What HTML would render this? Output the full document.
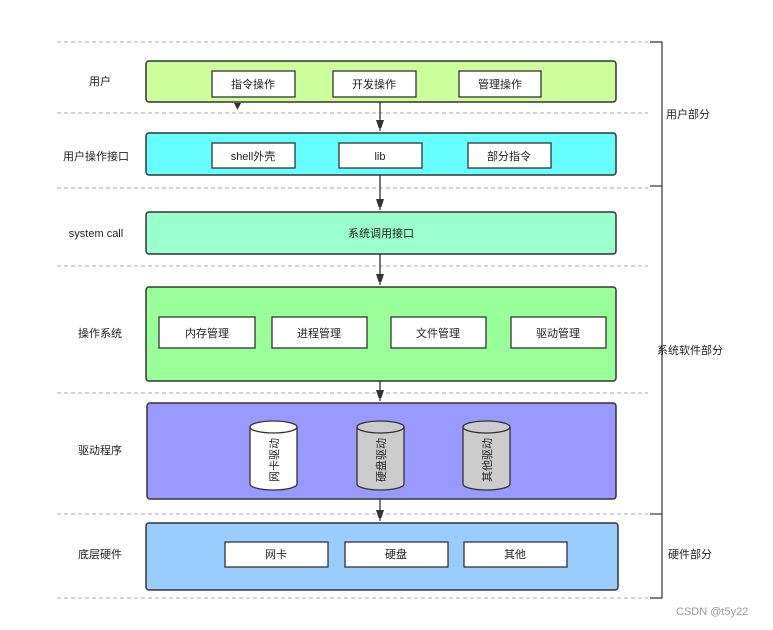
<!DOCTYPE html>
<html><head><meta charset="utf-8"><style>
html,body{margin:0;padding:0;background:#fff;}
svg text{font-family:"Liberation Sans","Noto Sans CJK SC",sans-serif;font-size:11px;fill:#222;}
</style></head><body>
<svg width="773" height="625" viewBox="0 0 773 625" xmlns="http://www.w3.org/2000/svg">
<defs><marker id="a" markerWidth="8" markerHeight="12" refX="11" refY="4" orient="auto" markerUnits="userSpaceOnUse"><path d="M0,0 L12,4 L0,8 z" fill="#333"/></marker></defs>
<g stroke="#aaa" stroke-dasharray="4,3" stroke-width="1">
<line x1="57" y1="42" x2="648" y2="42"/><line x1="57" y1="113" x2="648" y2="113"/>
<line x1="57" y1="188" x2="648" y2="188"/><line x1="57" y1="266" x2="648" y2="266"/>
<line x1="57" y1="393" x2="648" y2="393"/><line x1="57" y1="514" x2="648" y2="514"/>
<line x1="57" y1="598" x2="648" y2="598"/>
</g>
<g stroke="#333" fill="none" stroke-width="1.2">
<path d="M650,42 H662 V598 H650"/><line x1="650" y1="186" x2="662" y2="186"/><line x1="650" y1="514" x2="662" y2="514"/>
</g>
<g stroke="#333" stroke-width="1.5">
<rect x="146" y="61" width="470" height="41" rx="3" fill="#ccff99"/>
<rect x="146" y="133" width="470" height="42" rx="3" fill="#66ffff"/>
<rect x="146" y="212" width="470" height="42" rx="3" fill="#99ffcc"/>
<rect x="146" y="287" width="470" height="94" rx="3" fill="#99ff99"/>
<rect x="147" y="403" width="469" height="96" rx="3" fill="#9999ff"/>
<rect x="146" y="523" width="472" height="67" rx="3" fill="#99ccff"/>
</g>
<g stroke="#333" stroke-width="1.3" fill="#fff">
<rect x="212" y="71" width="83" height="26"/><rect x="333" y="71" width="83" height="26"/><rect x="459" y="71" width="82" height="26"/>
<rect x="212" y="143" width="83" height="25"/><rect x="339" y="143" width="83" height="25"/><rect x="468" y="143" width="83" height="25"/>
<rect x="159" y="317" width="96" height="31"/><rect x="272" y="317" width="95" height="31"/><rect x="391" y="317" width="95" height="31"/><rect x="511" y="317" width="95" height="31"/>
<rect x="225" y="542" width="103" height="25"/><rect x="345" y="542" width="103" height="25"/><rect x="464" y="542" width="103" height="25"/>
</g>
<g stroke="#333" stroke-width="1.3">
<path d="M250,427 V484 A23.5,6 0 0 0 297,484 V427" fill="#fff"/><ellipse cx="273.5" cy="427" rx="23.5" ry="6" fill="#fff"/>
<path d="M357,427 V484 A23.5,6 0 0 0 404,484 V427" fill="#ccc"/><ellipse cx="380.5" cy="427" rx="23.5" ry="6" fill="#ccc"/>
<path d="M463,427 V484 A23.5,6 0 0 0 510,484 V427" fill="#ccc"/><ellipse cx="486.5" cy="427" rx="23.5" ry="6" fill="#ccc"/>
</g>
<g stroke="#333" stroke-width="1.3" marker-end="url(#a)">
<line x1="380" y1="102" x2="380" y2="131"/><line x1="380" y1="175" x2="380" y2="210"/>
<line x1="380" y1="254" x2="380" y2="285"/><line x1="380" y1="381" x2="380" y2="401"/>
<line x1="380" y1="499" x2="380" y2="521"/>
</g>
<path d="M234,103 L241,103 L237.5,110 z" fill="#333"/>
<g text-anchor="middle">
<text x="253" y="88">指令操作</text><text x="374" y="88">开发操作</text><text x="500" y="88">管理操作</text>
<text x="253" y="160">shell外壳</text><text x="380" y="160">lib</text><text x="509" y="160">部分指令</text>
<text x="381" y="237">系统调用接口</text>
<text x="207" y="337">内存管理</text><text x="319" y="337">进程管理</text><text x="438" y="337">文件管理</text><text x="558" y="337">驱动管理</text>
<text x="276" y="558">网卡</text><text x="396" y="558">硬盘</text><text x="515" y="558">其他</text>
<text x="100" y="85">用户</text><text x="96" y="160">用户操作接口</text><text x="96" y="237">system call</text>
<text x="100" y="337">操作系统</text><text x="100" y="454">驱动程序</text><text x="100" y="558">底层硬件</text>
<text x="688" y="118">用户部分</text><text x="690" y="354">系统软件部分</text><text x="690" y="558">硬件部分</text>
<text transform="translate(278,460) rotate(-90)">网卡驱动</text>
<text transform="translate(385,460) rotate(-90)">硬盘驱动</text>
<text transform="translate(491,460) rotate(-90)">其他驱动</text>
</g>
<text x="676" y="615" style="fill:#999;font-size:11px">CSDN @t5y22</text>
</svg>
</body></html>
